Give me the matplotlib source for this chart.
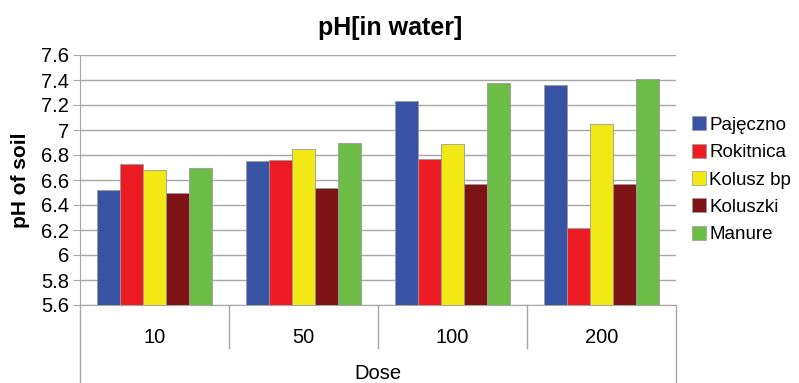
import numpy as np
import matplotlib.pyplot as plt
from matplotlib.lines import Line2D

plt.rcParams['font.family'] = ['Liberation Sans', 'DejaVu Sans']

doses = ['10', '50', '100', '200']
series = ['Pajęczno', 'Rokitnica', 'Kolusz bp', 'Koluszki', 'Manure']
pajeczno = [6.52, 6.75, 7.23, 7.36]
rokitnica = [6.73, 6.76, 6.77, 6.22]
kolusz_bp = [6.68, 6.85, 6.89, 7.05]
koluszki = [6.50, 6.54, 6.57, 6.57]
manure = [6.70, 6.90, 7.38, 7.41]
colors = ['#3853a4', '#ed1c24', '#f2e814', '#7f1416', '#6bbd45']

values = [pajeczno, rokitnica, kolusz_bp, koluszki, manure]
ymin = 5.6

fig = plt.figure(figsize=(7.99, 3.83), dpi=100)
ax = fig.add_axes([80 / 799, 1 - 305 / 383, 596 / 799, 250 / 383])

x = np.arange(len(doses))
w = 0.155
for i, (name, vals, c) in enumerate(zip(series, values, colors)):
    pos = x + (i - 2) * w
    ax.bar(pos, np.array(vals) - ymin, bottom=ymin, width=w, color=c,
           edgecolor='#9a9a9a', linewidth=0.6, label=name, zorder=3)

ax.set_xlim(-0.5, 3.5)
ax.set_ylim(5.6, 7.6)
ticks = np.arange(5.6, 7.61, 0.2)
ax.set_yticks(ticks)
ax.set_yticklabels(['%g' % round(v, 1) for v in ticks])
ax.yaxis.grid(True, color='#a6a6a6', linewidth=1.0, zorder=0)
ax.tick_params(axis='y', length=5, color='#a6a6a6', labelsize=14.5, pad=3)
ax.set_xticks([])

for s in ['top', 'right']:
    ax.spines[s].set_visible(False)
ax.spines['left'].set_color('#a6a6a6')
ax.spines['bottom'].set_color('#a6a6a6')

# two-level category axis below the plot
ax.plot([-0.5, -0.5], [ymin, ymin - 0.64], color='#a6a6a6', lw=1, clip_on=False)
ax.plot([3.5, 3.5], [ymin, ymin - 0.64], color='#a6a6a6', lw=1, clip_on=False)
for b in [0.5, 1.5, 2.5]:
    ax.plot([b, b], [ymin, ymin - 0.345], color='#a6a6a6', lw=1, clip_on=False)
for xi, d in zip(x, doses):
    ax.text(xi, ymin - 0.26, d, ha='center', va='center', fontsize=14.5)
ax.text(1.5, ymin - 0.545, 'Dose', ha='center', va='center', fontsize=14.5)

ax.set_ylabel('pH of soil', fontsize=15, fontweight='bold', labelpad=8)
fig.text(390 / 799, 1 - 28 / 383, 'pH[in water]', ha='center', va='center',
         fontsize=18, fontweight='bold')

handles = [Line2D([], [], marker='s', linestyle='none', markersize=10,
                  markerfacecolor=c, markeredgecolor='#9a9a9a', markeredgewidth=0.5)
           for c in colors]
fig.legend(handles, series, loc='center left', bbox_to_anchor=(682 / 799, 1 - 180 / 383),
           frameon=False, fontsize=13.5, handletextpad=0.05, labelspacing=0.55,
           handlelength=1.0, borderaxespad=0)

fig.savefig('out.png', dpi=100)
